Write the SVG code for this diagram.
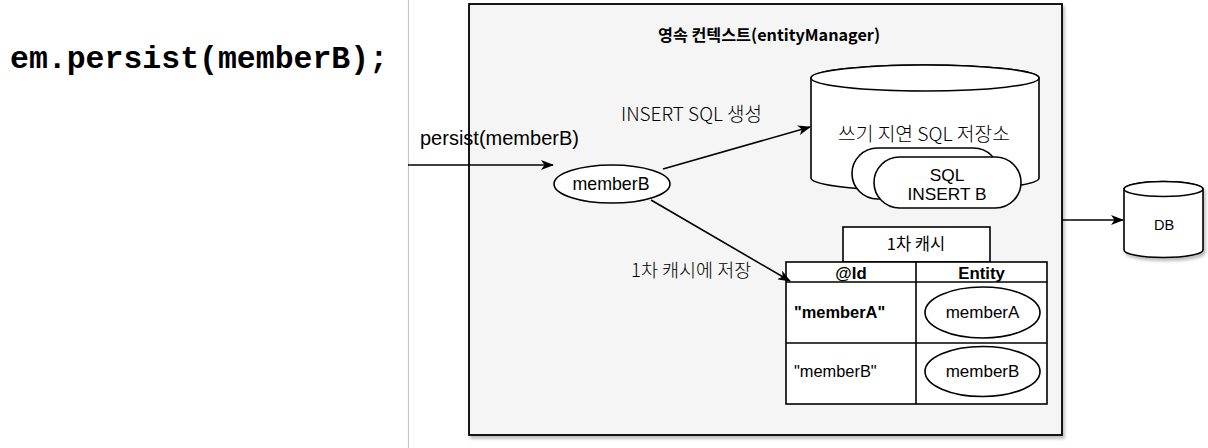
<svg xmlns="http://www.w3.org/2000/svg" width="1208" height="448" viewBox="0 0 1208 448">
<style>
.ln{fill:none;stroke:#000;stroke-width:1.6}
.shape{fill:#fff;stroke:#000;stroke-width:1.6}
.t{font-family:"Liberation Sans","Noto Sans CJK KR",sans-serif;fill:#000}
.k{font-family:"Noto Sans CJK KR","Liberation Sans",sans-serif;fill:#000}
.c{text-anchor:middle}
</style>
<defs>
<marker id="arr" viewBox="0 0 13 10" refX="12" refY="5" markerWidth="13" markerHeight="10" markerUnits="userSpaceOnUse" orient="auto">
<path d="M0,0 L13,5 L0,10 L3.5,5 z" fill="#000"/>
</marker>
<filter id="sh" x="-10%" y="-10%" width="130%" height="130%">
<feDropShadow dx="2" dy="3" stdDeviation="1.5" flood-color="#000" flood-opacity="0.25"/>
</filter>
</defs>
<rect width="1208" height="448" fill="#fff"/>
<line x1="408.5" y1="0" x2="408.5" y2="448" stroke="#c8c8c8" stroke-width="1.2"/>
<g id="code"><text x="10" y="68" font-family="'Liberation Mono','Courier New',monospace" font-weight="bold" font-size="31.5">em.persist(memberB);</text></g>

<g id="context">
<rect x="469" y="4" width="593" height="431" fill="#f5f5f5" stroke="#000" stroke-width="1.8" filter="url(#sh)"/>
<text class="k c" x="769" y="41" font-size="16.2" font-weight="bold">영속 컨텍스트(entityManager)</text>
</g>

<g id="store">
<path class="shape" d="M811,78 L811,178 A114,13 0 0 0 1039,178 L1039,78 A114,13 0 0 0 811,78 z"/>
<ellipse class="shape" cx="925" cy="78" rx="114" ry="13"/>
<text class="k c" x="924" y="141" font-size="19.3" font-weight="300">쓰기 지연 SQL 저장소</text>
</g>

<g id="sql-back"><rect class="shape" x="852" y="148" width="147" height="51" rx="25.5"/></g>
<g id="sql-front">
<rect class="shape" x="874" y="157" width="147" height="51" rx="25.5"/>
<text class="t c" x="947" y="181" font-size="17.3">SQL</text>
<text class="t c" x="947" y="200" font-size="17.3">INSERT B</text>
</g>

<g id="memberB-node">
<ellipse class="shape" cx="612" cy="184" rx="58" ry="19"/>
<text class="t c" x="611" y="190" font-size="17.8">memberB</text>
</g>

<g id="db">
<path class="shape" filter="url(#sh)" d="M1124,189 L1124,250 A39.5,7.5 0 0 0 1203,250 L1203,189 A39.5,7.5 0 0 0 1124,189 z"/>
<ellipse class="shape" cx="1163.5" cy="189" rx="39.5" ry="7.5"/>
<text class="t c" x="1164" y="230" font-size="14.5">DB</text>
</g>

<g id="cache-label">
<rect class="shape" x="843" y="227" width="147" height="35"/>
<text class="k c" x="916" y="250" font-size="16.5">1차 캐시</text>
</g>

<g id="cache-table">
<rect class="shape" x="786" y="262" width="261" height="142"/>
<line class="ln" x1="786" y1="282" x2="1047" y2="282"/>
<line class="ln" x1="786" y1="343" x2="1047" y2="343"/>
<line class="ln" x1="916" y1="262" x2="916" y2="404"/>
<text class="t c" x="851" y="279" font-size="16.8" font-weight="bold">@Id</text>
<text class="t c" x="981.5" y="279" font-size="16.8" font-weight="bold">Entity</text>
<text class="t" x="794" y="318" font-size="16.4" font-weight="bold">"memberA"</text>
<text class="t" x="794" y="377" font-size="16.4">"memberB"</text>
<ellipse class="shape" cx="982.5" cy="312.5" rx="57.5" ry="25.5"/>
<text class="t c" x="982.5" y="318" font-size="17">memberA</text>
<ellipse class="shape" cx="982.5" cy="371.5" rx="57.5" ry="25"/>
<text class="t c" x="982.5" y="377" font-size="17">memberB</text>
</g>

<g id="connectors">
<line class="ln" x1="408" y1="165" x2="553" y2="165" marker-end="url(#arr)"/>
<line class="ln" x1="663" y1="169" x2="810" y2="127" marker-end="url(#arr)"/>
<line class="ln" x1="651" y1="200" x2="790" y2="281" marker-end="url(#arr)"/>
<line class="ln" x1="1062" y1="220" x2="1123" y2="220" marker-end="url(#arr)"/>
<text class="t" x="420" y="145" font-size="20">persist(memberB)</text>
<text class="k" x="621" y="121" font-size="19" font-weight="300">INSERT SQL 생성</text>
<text class="k" x="631" y="277" font-size="18.5" font-weight="300">1차 캐시에 저장</text>
</g>
</svg>
